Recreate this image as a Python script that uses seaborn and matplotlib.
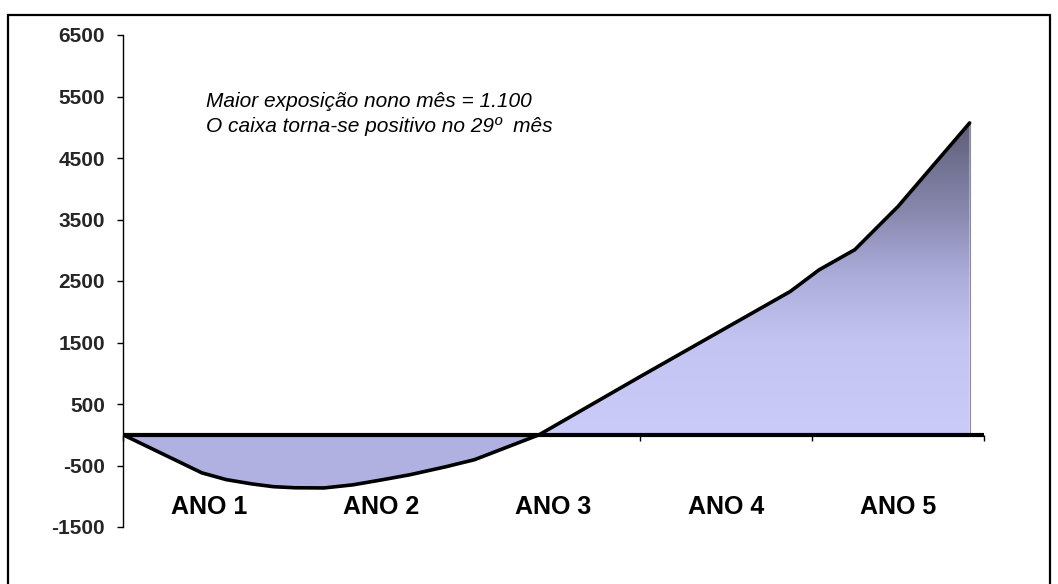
import numpy as np
import matplotlib
matplotlib.use("Agg")
import matplotlib.pyplot as plt
from matplotlib.colors import LinearSegmentedColormap
from matplotlib.patches import Rectangle
import seaborn as sns

# cash flow curve (month index, cumulative value)
months = [0, 5.5, 7.2, 9, 10.5, 12, 14, 16, 18, 20, 22.5, 24.5, 27, 29, 36, 46.5, 48.5, 51, 54, 59]
cash = [0, -620, -730, -800, -845, -862, -865, -815, -735, -650, -520, -405, -180, 0, 940, 2330,
        2680, 3010, 3710, 5070]

years = ["ANO 1", "ANO 2", "ANO 3", "ANO 4", "ANO 5"]
year_ticks = [0, 12, 24, 36, 48, 60]
y_ticks = [-1500, -500, 500, 1500, 2500, 3500, 4500, 5500, 6500]

note_1 = "Maior exposição nono mês = 1.100"
note_2 = "O caixa torna-se positivo no 29º  mês"

sns.set_theme(style="white")
plt.rcParams["font.family"] = ["Liberation Sans", "DejaVu Sans"]

W, H = 1058, 584
fig = plt.figure(figsize=(W / 100, H / 100), dpi=100)
ax = fig.add_axes([123 / W, 1 - 527 / H, (984 - 123) / W, (527 - 35) / H])
ax.set_axisbelow(True)

x = np.array(months, dtype=float)
y = np.array(cash, dtype=float)

# negative part: flat lavender
ax.fill_between(x, y, 0, where=y <= 0, interpolate=True, facecolor="#b1b1e1",
                edgecolor="none", zorder=1)

# positive part: vertical gradient clipped to the area
shape = ax.fill_between(x, y, 0, facecolor="none", edgecolor="none", zorder=1)
grad_cmap = LinearSegmentedColormap.from_list(
    "grad", [(0.0, "#cbcbf9"), (0.3, "#c4c4f2"), (0.5, "#aeaedd"),
             (0.7, "#8b8bb2"), (0.88, "#707090"), (1.0, "#5e5e77")])
grad = np.linspace(0, 1, 256).reshape(-1, 1)
img = ax.imshow(grad, extent=[0, max(months), 0, max(cash)], origin="lower",
                cmap=grad_cmap, aspect="auto", zorder=1)
img.set_clip_path(shape.get_paths()[0], ax.transData)
ax.plot([x[-1], x[-1]], [0, y[-1]], color="#8a8aa8", lw=0.8, zorder=1.5)

# curve and zero line
sns.lineplot(x=x, y=y, color="black", lw=2.6, ax=ax, zorder=3)
ax.axhline(0, xmin=0, xmax=1, color="black", lw=3, zorder=3, solid_capstyle="butt")

ax.set_xlim(0, 60)
ax.set_ylim(-1500, 6500)
ax.set_yticks(y_ticks)
ax.set_yticklabels([str(v) for v in y_ticks], fontsize=15, fontweight="bold")
ax.set_xticks(year_ticks)
ax.set_xticklabels([])

for s in ["top", "right"]:
    ax.spines[s].set_visible(False)
ax.spines["bottom"].set_position(("data", 0))
ax.spines["bottom"].set_visible(False)
ax.spines["left"].set_color("black")
ax.spines["left"].set_linewidth(1)
ax.tick_params(axis="y", direction="out", length=4.3, width=1, color="black",
               pad=8.6, left=True)
ax.tick_params(axis="x", direction="out", length=4.5, width=1, color="black",
               bottom=True)

for i, lab in enumerate(years):
    ax.text(12 * i + 6, -1180, lab, ha="center", va="center", fontsize=18,
            fontweight="bold", color="black")

fig.text(206 / W, 1 - 107 / H, note_1, fontsize=15, style="italic", color="black")
fig.text(206 / W, 1 - 132 / H, note_2, fontsize=15, style="italic", color="black")

# outer frame
fig.patches.append(Rectangle((8 / W, -0.1), (1050 - 8) / W, 1.1 - 15 / H,
                             transform=fig.transFigure, fill=False,
                             edgecolor="black", lw=1.6))

fig.savefig("out.png", dpi=100)
